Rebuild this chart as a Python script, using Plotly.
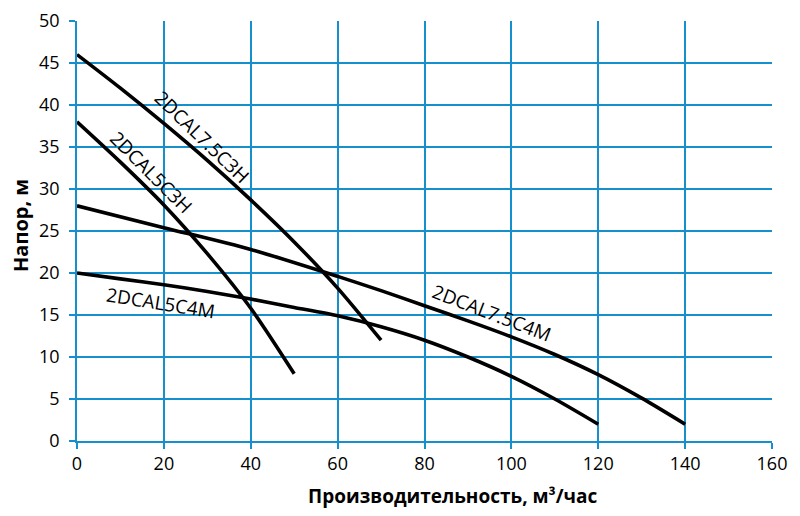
import plotly.graph_objects as go

# Data
x_75c3h = [0, 10, 20, 30, 40, 50, 60, 70]
y_75c3h = [46, 42, 37.8, 33.4, 28.7, 23.7, 18.2, 12]

x_5c3h = [0, 10, 20, 30, 40, 50]
y_5c3h = [38, 33.2, 28.1, 22.3, 15.8, 8]

x_75c4m = [0, 20, 40, 60, 70, 80, 90, 100, 110, 120, 130, 140]
y_75c4m = [28, 25.4, 22.8, 19.6, 17.9, 16.1, 14.3, 12.4, 10.3, 7.9, 5.1, 2]

x_5c4m = [0, 10, 20, 30, 40, 50, 60, 70, 80, 90, 100, 110, 120]
y_5c4m = [20, 19.3, 18.6, 17.8, 16.9, 15.9, 14.9, 13.6, 12.0, 10.0, 7.7, 5.0, 2]

labels = ["2DCAL7.5C3H", "2DCAL5C3H", "2DCAL7.5C4M", "2DCAL5C4M"]
label_x = [28.8, 17.0, 95.5, 19.3]
label_y = [36.2, 32.0, 15.2, 16.4]
label_angle = [44, 45, 21, 9]

x_ticks = [0, 20, 40, 60, 80, 100, 120, 140, 160]
y_ticks = [0, 5, 10, 15, 20, 25, 30, 35, 40, 45, 50]

FONT = "Open Sans"
GRID = "#1590cc"
OFF = 8  # page body margin
W, H = 792, 508
L, R, T, B = 77 - OFF, 28, 21 - OFF, 75
PW, PH = W - L - R, H - T - B
X0, Y0 = 77, 441  # screen pixel of plot origin


def px_to_paper(sx, sy):
    return (sx - X0) / PW, (Y0 - sy) / PH


fig = go.Figure()
for xs, ys in [(x_75c3h, y_75c3h), (x_5c3h, y_5c3h), (x_75c4m, y_75c4m), (x_5c4m, y_5c4m)]:
    fig.add_trace(go.Scatter(x=xs, y=ys, mode="lines",
                             line=dict(color="black", width=3.6, shape="spline", smoothing=0.8),
                             showlegend=False, hoverinfo="skip"))

for t, lx, ly, ang in zip(labels, label_x, label_y, label_angle):
    fig.add_annotation(x=lx, y=ly, text=t, textangle=ang, showarrow=False,
                       xanchor="center", yanchor="middle",
                       font=dict(family=FONT, size=19, color="black"))

ax, ay = px_to_paper(453, 496)
fig.add_annotation(x=ax, y=ay, xref="paper", yref="paper",
                   text="<b>Производительность, м³/час</b>", showarrow=False,
                   xanchor="center", yanchor="middle",
                   font=dict(family=FONT, size=19, color="black"))
bx, by = px_to_paper(20, 225)
fig.add_annotation(x=bx, y=by, xref="paper", yref="paper",
                   text="<b>Напор, м</b>", textangle=-90, showarrow=False,
                   xanchor="center", yanchor="middle",
                   font=dict(family=FONT, size=20, color="black"))

fig.update_layout(
    width=W, height=H,
    margin=dict(l=L, r=R, t=T, b=B, autoexpand=False),
    paper_bgcolor="white", plot_bgcolor="white",
    font=dict(family=FONT, size=18, color="black"),
)

fig.update_xaxes(range=[0, 160], tickvals=x_ticks, showgrid=True, gridcolor=GRID, gridwidth=1.5,
                 showline=True, linecolor=GRID, linewidth=1.5, automargin=False,
                 ticks="outside", tickcolor=GRID, ticklen=6, tickwidth=1.5,
                 zeroline=False, tickfont=dict(family=FONT, size=18, color="black"))
fig.update_yaxes(range=[0, 50], tickvals=y_ticks, showgrid=True, gridcolor=GRID, gridwidth=1.5,
                 showline=True, linecolor=GRID, linewidth=1.5, automargin=False,
                 ticks="outside", tickcolor=GRID, ticklen=6, tickwidth=1.5,
                 ticklabelstandoff=6,
                 zeroline=False, tickfont=dict(family=FONT, size=18, color="black"))

fig.write_html("out.html")
